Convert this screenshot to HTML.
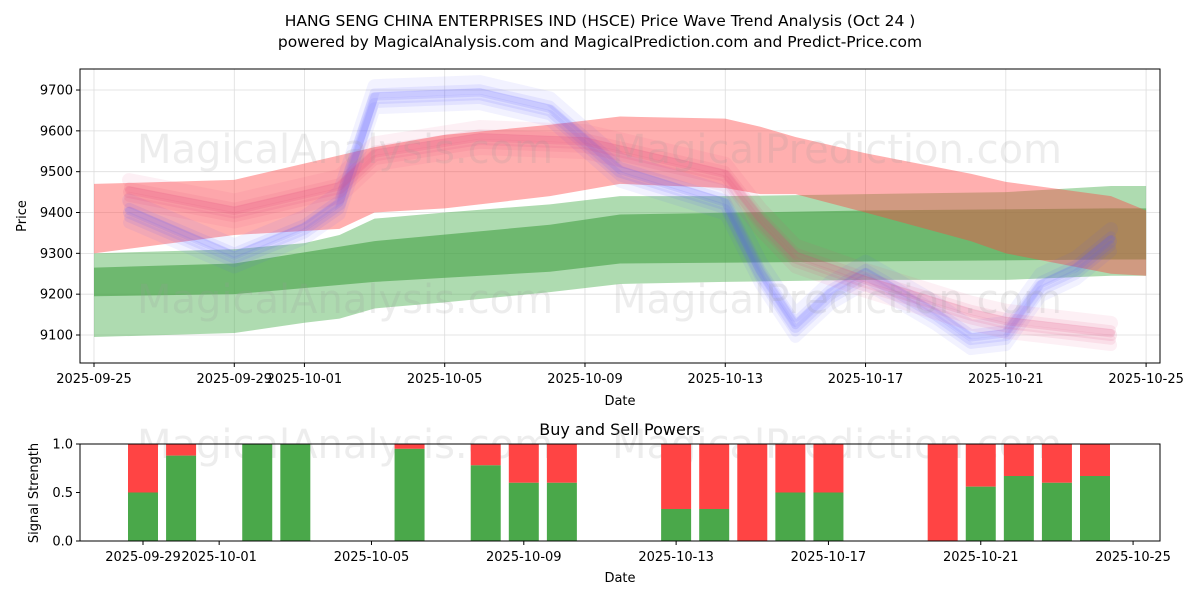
<!DOCTYPE html>
<html><head><meta charset="utf-8">
<style>
html,body{margin:0;padding:0;background:#fff;}
svg{display:block;font-family:"DejaVu Sans","Liberation Sans",sans-serif;}
</style></head>
<body>
<svg id="c" width="1200" height="600" xmlns="http://www.w3.org/2000/svg"></svg>
<script>
// ---- data ----
const greenOuterDates=["2025-09-25","2025-09-29","2025-10-01","2025-10-02","2025-10-03","2025-10-05","2025-10-08","2025-10-10","2025-10-13","2025-10-17","2025-10-21","2025-10-24","2025-10-25"];
const greenOuterLow=[9095,9105,9130,9140,9165,9180,9205,9225,9230,9235,9235,9245,9245];
const greenOuterHigh=[9300,9310,9325,9345,9385,9400,9420,9440,9440,9445,9450,9465,9465];
const greenInnerDates=["2025-09-25","2025-09-29","2025-10-03","2025-10-08","2025-10-10","2025-10-17","2025-10-24","2025-10-25"];
const greenInnerLow=[9195,9200,9230,9255,9275,9280,9285,9285];
const greenInnerHigh=[9265,9275,9330,9370,9395,9405,9410,9410];
const redDates=["2025-09-25","2025-09-29","2025-10-02","2025-10-03","2025-10-05","2025-10-08","2025-10-10","2025-10-13","2025-10-14","2025-10-15","2025-10-17","2025-10-20","2025-10-21","2025-10-24","2025-10-25"];
const redLow=[9300,9345,9360,9400,9410,9440,9470,9460,9445,9445,9400,9330,9300,9250,9245];
const redHigh=[9470,9480,9540,9560,9590,9615,9635,9630,9610,9585,9545,9495,9475,9440,9405];
const blueDates=["2025-09-26","2025-09-29","2025-10-01","2025-10-02","2025-10-03","2025-10-06","2025-10-08","2025-10-10","2025-10-13","2025-10-14","2025-10-15","2025-10-16","2025-10-17","2025-10-19","2025-10-20","2025-10-21","2025-10-22","2025-10-23","2025-10-24"];
const blueVals=[9400,9290,9360,9420,9680,9690,9650,9500,9420,9250,9120,9200,9250,9150,9090,9100,9220,9260,9330];
const magDates=["2025-09-26","2025-09-29","2025-10-02","2025-10-03","2025-10-06","2025-10-09","2025-10-11","2025-10-13","2025-10-14","2025-10-15","2025-10-17","2025-10-20","2025-10-21","2025-10-23","2025-10-24"];
const magVals=[9450,9400,9460,9540,9580,9570,9530,9490,9380,9290,9230,9150,9130,9110,9100];
const yTicks=[9100,9200,9300,9400,9500,9600,9700];
const xTickDates=["2025-09-25","2025-09-29","2025-10-01","2025-10-05","2025-10-09","2025-10-13","2025-10-17","2025-10-21","2025-10-25"];
const barDates=["2025-09-29","2025-09-30","2025-10-02","2025-10-03","2025-10-06","2025-10-08","2025-10-09","2025-10-10","2025-10-13","2025-10-14","2025-10-15","2025-10-16","2025-10-17","2025-10-20","2025-10-21","2025-10-22","2025-10-23","2025-10-24"];
const greenFrac=[0.5,0.88,1,1,0.95,0.78,0.6,0.6,0.33,0.33,0,0.5,0.5,0,0.56,0.67,0.6,0.67];
const bTickDates=["2025-09-29","2025-10-01","2025-10-05","2025-10-09","2025-10-13","2025-10-17","2025-10-21","2025-10-25"];
const bYTicks=[0,0.5,1];

// ---- helpers ----
const svg=document.getElementById('c');const NS="http://www.w3.org/2000/svg";
function mk(t,a,p){const e=document.createElementNS(NS,t);for(const k in a)e.setAttribute(k,a[k]);(p||svg).appendChild(e);return e;}
const day=d=>Date.parse(d+"T00:00:00Z")/864e5;
const D0=day("2025-09-25");
const X=d=>94+(day(d)-D0)*35.07;
const Y=v=>335-(v-9100)*0.4083;
const B0=day("2025-09-29");
const BX=d=>143+(day(d)-B0)*38.08;
const BY=v=>541-v*97;

// titles
let t=mk('text',{x:600,y:26,'text-anchor':'middle','font-size':15.5,fill:'#000'});t.textContent="HANG SENG CHINA ENTERPRISES IND (HSCE) Price Wave Trend Analysis (Oct 24 )";

t=mk('text',{x:600,y:47,'text-anchor':'middle','font-size':15.5,fill:'#000'});t.textContent="powered by MagicalAnalysis.com and MagicalPrediction.com and Predict-Price.com";


// main plot
const clip=mk('clipPath',{id:'cp'});mk('rect',{x:80,y:69,width:1080,height:294},clip);
const g=mk('g',{'clip-path':'url(#cp)'});

yTicks.forEach(v=>mk('line',{x1:80,x2:1160,y1:Y(v),y2:Y(v),stroke:'#ddd','stroke-width':0.8},g));
xTickDates.forEach(d=>mk('line',{x1:X(d),x2:X(d),y1:69,y2:363,stroke:'#ddd','stroke-width':0.8},g));
function band(dates,lo,hi,col,op,name){
  let p=dates.map((d,i)=>X(d)+","+Y(hi[i])).join(" ")+" "+dates.map((d,i)=>X(d)+","+Y(lo[i])).reverse().join(" ");
  const e=mk('polygon',{points:p,fill:col,'fill-opacity':op},g);
  
}
band(greenOuterDates,greenOuterLow,greenOuterHigh,'#4caf50',0.45,'green-outer-band');
band(greenInnerDates,greenInnerLow,greenInnerHigh,'#3a9a3a',0.55,'green-inner-band');
band(redDates,redLow,redHigh,'#ff4040',0.42,'red-band');
function wave(dates,vals,col,name){
  const offs=[[-30,14,0.08],[25,12,0.08],[-12,10,0.1],[12,10,0.1],[0,12,0.12],[-4,8,0.14]];
  offs.forEach(o=>{
    const p=dates.map((d,i)=>X(d)+","+(Y(vals[i])+o[0]*0.4)).join(" ");
    const e=mk('polyline',{points:p,fill:'none',stroke:col,'stroke-width':o[1],'stroke-opacity':o[2],'stroke-linejoin':'round','stroke-linecap':'round'},g);
    
  });
}
wave(blueDates,blueVals,'#5a5aff','blue-wave');
wave(magDates,magVals,'#e0407a','magenta-wave');
// watermarks
[["MagicalAnalysis.com",345,163],["MagicalPrediction.com",837,163],["MagicalAnalysis.com",345,313],["MagicalPrediction.com",837,313]].forEach(w=>{
  const e=mk('text',{x:w[1],y:w[2],'text-anchor':'middle','font-size':40,fill:'#999','fill-opacity':0.18},g);e.textContent=w[0];
  
});
mk('rect',{x:80,y:69,width:1080,height:294,fill:'none',stroke:'#000','stroke-width':1});
yTicks.forEach(v=>{mk('line',{x1:76,x2:80,y1:Y(v),y2:Y(v),stroke:'#000'});
  const e=mk('text',{x:73,y:Y(v)+4.5,'text-anchor':'end','font-size':13});e.textContent=v;
  });
xTickDates.forEach(d=>{mk('line',{x1:X(d),x2:X(d),y1:363,y2:367,stroke:'#000'});
  const e=mk('text',{x:X(d),y:383,'text-anchor':'middle','font-size':13});e.textContent=d;
  });
t=mk('text',{x:620,y:405,'text-anchor':'middle','font-size':13});t.textContent="Date";

t=mk('text',{x:26,y:216,'text-anchor':'middle','font-size':13,transform:'rotate(-90 26 216)'});t.textContent="Price";


// bottom chart
t=mk('text',{x:620,y:435,'text-anchor':'middle','font-size':16});t.textContent="Buy and Sell Powers";

[["MagicalAnalysis.com",345,458],["MagicalPrediction.com",837,458]].forEach(w=>{
  const e=mk('text',{x:w[1],y:w[2],'text-anchor':'middle','font-size':40,fill:'#999','fill-opacity':0.18});e.textContent=w[0];
  
});
barDates.forEach((d,i)=>{
  const x=BX(d)-15,f=greenFrac[i];
  const r=mk('rect',{x:x,y:BY(1),width:30,height:BY(f)-BY(1),fill:'#ff4444'});
  
  const gr=mk('rect',{x:x,y:BY(f),width:30,height:BY(0)-BY(f),fill:'#4aa84a'});
  
});
mk('rect',{x:80,y:444,width:1080,height:97,fill:'none',stroke:'#000','stroke-width':1});
bYTicks.forEach(v=>{mk('line',{x1:76,x2:80,y1:BY(v),y2:BY(v),stroke:'#000'});
  const e=mk('text',{x:73,y:BY(v)+4.5,'text-anchor':'end','font-size':13});e.textContent=v.toFixed(1);
  });
bTickDates.forEach(d=>{mk('line',{x1:BX(d),x2:BX(d),y1:541,y2:545,stroke:'#000'});
  const e=mk('text',{x:BX(d),y:561,'text-anchor':'middle','font-size':13});e.textContent=d;
  });
t=mk('text',{x:620,y:582,'text-anchor':'middle','font-size':13});t.textContent="Date";

t=mk('text',{x:38,y:493,'text-anchor':'middle','font-size':13,transform:'rotate(-90 38 493)'});t.textContent="Signal Strength";

</script>
</body></html>
